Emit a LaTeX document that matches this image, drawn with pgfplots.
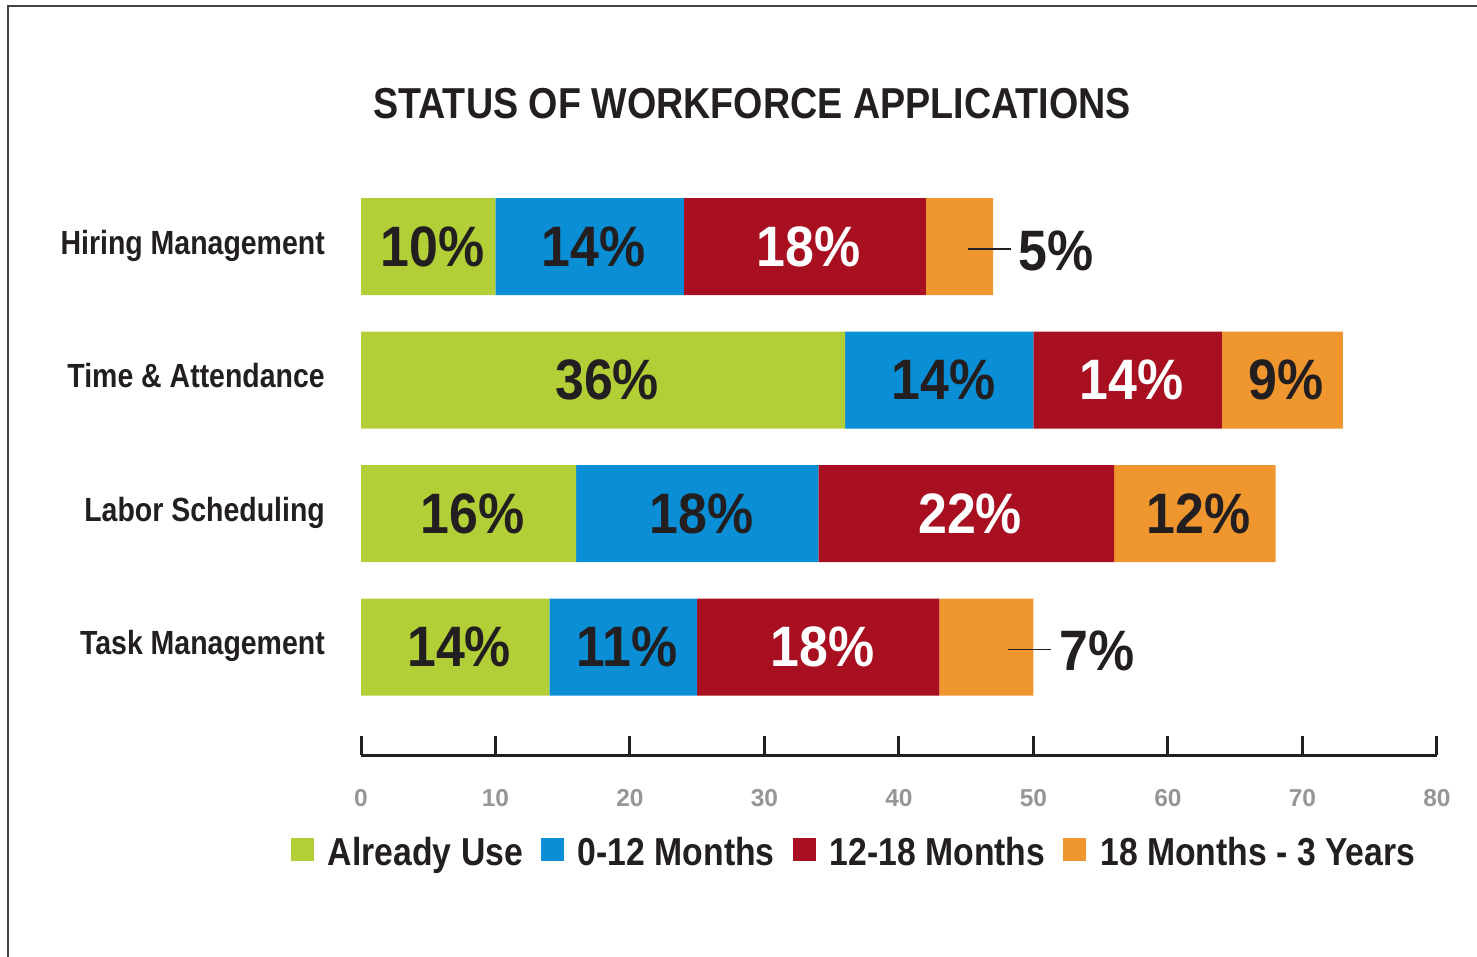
\documentclass[border=0pt]{standalone}
\usepackage{fontspec}
\setmainfont{Liberation Sans}
\newfontfamily\titlefont{Liberation Sans}[FakeStretch=0.87]
\newfontfamily\labfont{Liberation Sans}[FakeStretch=0.85]
\newfontfamily\legfont{Liberation Sans}[FakeStretch=0.865]
\newfontfamily\barfont{Liberation Sans}[FakeStretch=0.91]
\usepackage{xcolor}
\usepackage{pgfplots}
\pgfplotsset{compat=1.18}

\definecolor{cgreen}{HTML}{B3CF37}
\definecolor{cblue}{HTML}{0A8ED5}
\definecolor{cred}{HTML}{A80F21}
\definecolor{corange}{HTML}{F0962E}
\definecolor{cdark}{HTML}{231F20}
\definecolor{ctick}{HTML}{969696}
\definecolor{cframe}{HTML}{444444}

\begin{document}
\begin{tikzpicture}
\useasboundingbox (0,0) rectangle (1477pt,-956pt);
% frame
\draw[line width=2pt, cframe] (8.3pt,-960pt) -- (8.3pt,-5.7pt) -- (1480pt,-5.7pt);
% title
\node[anchor=base, inner sep=0pt, text=cdark,
      font=\titlefont\bfseries\fontsize{43.3}{50}\selectfont]
  at (752pt,-118pt) {STATUS OF WORKFORCE APPLICATIONS};

\begin{axis}[
  at={(361pt,-755pt)}, anchor=south west,
  scale only axis, width=1076pt, height=588.6pt,
  xbar stacked, bar width=97pt,
  xmin=0, xmax=80, ymin=-0.809, ymax=3.6,
  clip=false,
  axis x line=bottom, axis y line=left,
  axis line style={-},
  x axis line style={line width=3pt, cdark},
  y axis line style={draw=none},
  tick align=inside,
  major tick length=19pt,
  xtick={0,10,...,80},
  xtick style={line width=3pt, cdark},
  ytick={0,1,2,3},
  ytick style={draw=none},
  yticklabels={Task Management, Labor Scheduling, Time \& Attendance, Hiring Management},
  /pgf/number format/assume math mode=true,
  xticklabel style={anchor=north, inner sep=0pt, yshift=-34pt, text=ctick,
    font=\bfseries\fontsize{24.5}{28}\selectfont},
  yticklabel style={anchor=base east, inner sep=0pt, xshift=-36pt, yshift=-7.5pt,
    text=cdark, font=\labfont\bfseries\fontsize{33.5}{38}\selectfont},
  legend columns=4,
  legend image code/.code={\fill[#1] (0pt,-9pt) rectangle (23pt,14pt);},
  legend style={at={(-0.0651,-0.1648)}, anchor=west, draw=none, fill=none,
    inner sep=0pt, outer sep=0pt, text=cdark,
    font=\legfont\bfseries\fontsize{39}{44}\selectfont,
    nodes={inner sep=0pt},
    /tikz/every odd column/.append style={column sep=14pt},
    /tikz/every even column/.append style={column sep=18pt}},
  legend cell align=left,
  nodes near coords,
  point meta=explicit symbolic,
  every node near coord/.append style={anchor=center, inner sep=0pt, xshift=4pt,
      font=\barfont\bfseries\fontsize{57}{64}\selectfont},
]
% y: 3 = Hiring Management, 2 = Time & Attendance, 1 = Labor Scheduling, 0 = Task Management
\addplot[fill=cgreen, draw=none, text=cdark]
  coordinates {(10,3) [10\%] (36,2) [36\%] (16,1) [16\%] (14,0) [14\%]};
\addplot[fill=cblue, draw=none, text=cdark]
  coordinates {(14,3) [14\%] (14,2) [14\%] (18,1) [18\%] (11,0) [11\%]};
\addplot[fill=cred, draw=none, text=white]
  coordinates {(18,3) [18\%] (14,2) [14\%] (22,1) [22\%] (18,0) [18\%]};
\addplot[fill=corange, draw=none, text=cdark]
  coordinates {(5,3) [] (9,2) [9\%] (12,1) [12\%] (7,0) []};
\legend{Already Use, 0-12 Months, 12-18 Months, 18 Months - 3 Years}

% ends of the two short orange segments, labelled outside
\coordinate (endH) at (axis cs:47,3);
\coordinate (endT) at (axis cs:50,0);
\end{axis}

\foreach \e/\t in {endH/5, endT/7} {
  \draw[line width=1.5pt, cdark] ([xshift=-25pt,yshift=-2.5pt]\e) -- ([xshift=18pt,yshift=-2.5pt]\e);
  \node[anchor=base west, inner sep=0pt, text=cdark,
        font=\barfont\bfseries\fontsize{57}{64}\selectfont]
    at ([xshift=25.5pt,yshift=-23.5pt]\e) {\t\%};
}
\end{tikzpicture}
\end{document}
